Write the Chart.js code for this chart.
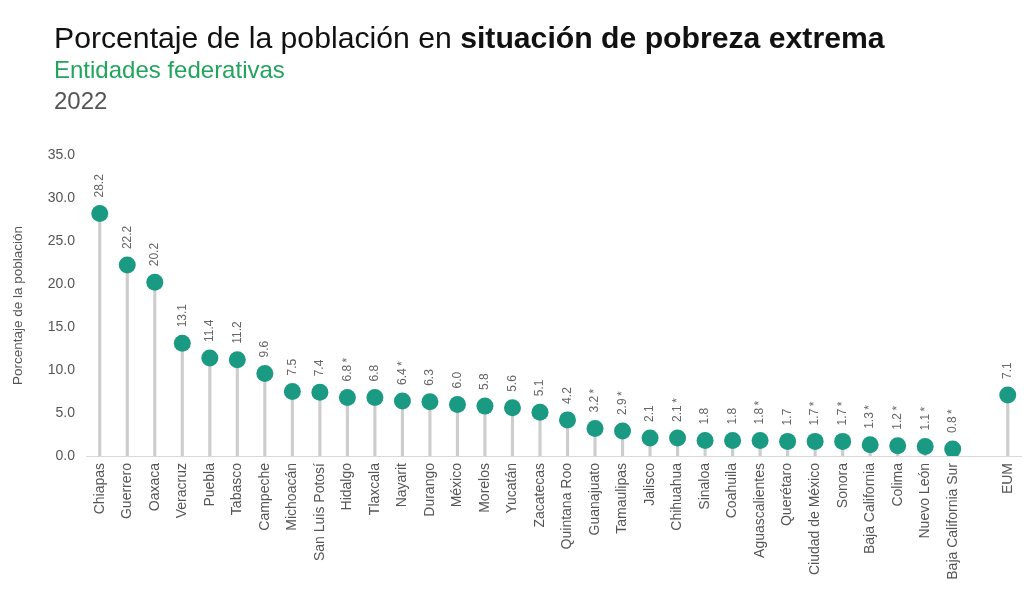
<!DOCTYPE html>
<html>
<head>
<meta charset="utf-8">
<script src="https://cdn.jsdelivr.net/npm/chart.js@4"></script>
<style>
  html, body { margin: 0; padding: 0; background: #fff; }
  body { width: 1024px; height: 608px; position: relative; overflow: hidden; font-family: "Liberation Sans", Arial, sans-serif; }
  #t1 { position: absolute; left: 54px; top: 21px; font-size: 30.2px; color: #111; white-space: nowrap; }
  #t2 { position: absolute; left: 54px; top: 56px; font-size: 24px; color: #21a55d; white-space: nowrap; }
  #t3 { position: absolute; left: 54px; top: 87px; font-size: 24px; color: #555; white-space: nowrap; }
  #wrap { position: absolute; left: 0; top: 0; width: 1030px; height: 608px; }
</style>
</head>
<body>
<div id="wrap"><canvas id="c" width="1030" height="608"></canvas></div>
<div id="t1">Porcentaje de la población en <b>situación de pobreza extrema</b></div>
<div id="t2">Entidades federativas</div>
<div id="t3">2022</div>
<script>
const categories = ["Chiapas","Guerrero","Oaxaca","Veracruz","Puebla","Tabasco","Campeche","Michoacán","San Luis Potosí","Hidalgo","Tlaxcala","Nayarit","Durango","México","Morelos","Yucatán","Zacatecas","Quintana Roo","Guanajuato","Tamaulipas","Jalisco","Chihuahua","Sinaloa","Coahuila","Aguascalientes","Querétaro","Ciudad de México","Sonora","Baja California","Colima","Nuevo León","Baja California Sur","","EUM"];
const values = [28.2,22.2,20.2,13.1,11.4,11.2,9.6,7.5,7.4,6.8,6.8,6.4,6.3,6.0,5.8,5.6,5.1,4.2,3.2,2.9,2.1,2.1,1.8,1.8,1.8,1.7,1.7,1.7,1.3,1.2,1.1,0.8,null,7.1];
const flagged = [false,false,false,false,false,false,false,false,false,true,false,true,false,false,false,false,false,false,true,true,false,true,false,false,true,false,true,true,true,true,true,true,false,false];
const yTicks = [0,5,10,15,20,25,30,35];

const valueLabels = {
  id: 'valueLabels',
  afterDatasetsDraw(chart) {
    const meta = chart.getDatasetMeta(1);
    const ctx = chart.ctx;
    ctx.save();
    ctx.font = '12px "Liberation Sans", Arial, sans-serif';
    ctx.fillStyle = '#666';
    ctx.textAlign = 'left';
    ctx.textBaseline = 'middle';
    meta.data.forEach((pt, i) => {
      if (values[i] === null) return;
      const txt = values[i].toFixed(1) + (flagged[i] ? '\u2009*' : '');
      ctx.save();
      ctx.translate(pt.x, pt.y - 16);
      ctx.rotate(-Math.PI / 2);
      ctx.fillText(txt, 0, 0);
      ctx.restore();
    });
    ctx.restore();
  }
};

new Chart(document.getElementById('c'), {
  data: {
    labels: categories,
    datasets: [
      { type: 'bar', data: values, backgroundColor: '#cdcdcd', barThickness: 2.5, order: 2 },
      { type: 'line', data: values, showLine: false, pointRadius: 8.5, pointHoverRadius: 8.5,
        pointBackgroundColor: '#1a9a82', pointBorderColor: '#1a9a82', pointBorderWidth: 0, order: 1 }
    ]
  },
  options: {
    responsive: false,
    animation: false,
    events: [],
    layout: { padding: { top: 155, right: 3, left: 0, bottom: 0 } },
    plugins: { legend: { display: false }, tooltip: { enabled: false } },
    scales: {
      x: {
        offset: true,
        grid: { display: false, drawTicks: false },
        border: { display: true, color: '#d9d9d9', width: 1 },
        ticks: { autoSkip: false, minRotation: 90, maxRotation: 90, color: '#555', padding: 7,
                 font: { family: '"Liberation Sans", Arial, sans-serif', size: 14 } },
        afterFit(s) { s.height = 152; s.paddingRight = 0; s.paddingLeft = 0; }
      },
      y: {
        min: 0, max: 35,
        afterBuildTicks(s) { s.ticks = yTicks.map(v => ({ value: v })); },
        grid: { display: false, drawTicks: false },
        border: { display: false },
        ticks: { color: '#555', padding: 11, callback: v => Number(v).toFixed(1),
                 font: { family: '"Liberation Sans", Arial, sans-serif', size: 14 } },
        title: { display: true, text: 'Porcentaje de la población', color: '#555', padding: { top: 10, bottom: 0 },
                 font: { family: '"Liberation Sans", Arial, sans-serif', size: 13.5 } },
        afterFit(s) { s.width = 86; }
      }
    }
  },
  plugins: [valueLabels]
});
</script>
</body>
</html>
